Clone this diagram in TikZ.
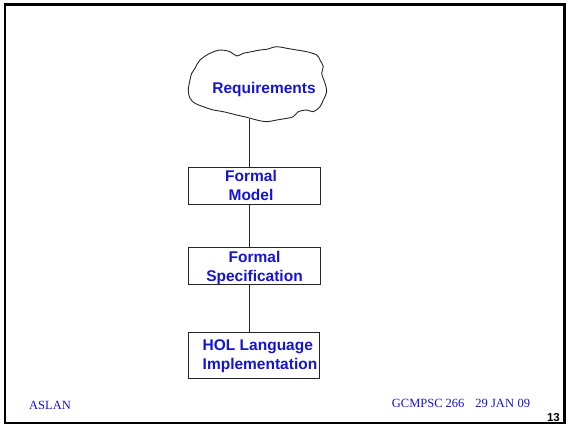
\documentclass[tikz,border=0pt]{standalone}
\usepackage{fontspec}
\setmainfont{Liberation Serif}
\newfontfamily\arialfont{Liberation Sans}
\definecolor{slideblue}{RGB}{20,20,210}
\begin{document}
\begin{tikzpicture}[x=1pt,y=-1pt,
  stage/.style={draw=black!85,line width=0.9pt,minimum width=132pt,minimum height=37pt,inner sep=0pt},
  stagetext/.style={font=\arialfont\bfseries\fontsize{15.5}{19}\selectfont,text=slideblue,align=center,inner sep=0pt},
  link/.style={draw=black!85,line width=0.9pt},
  foot/.style={font=\fontsize{12.5}{14}\selectfont,text=slideblue,inner sep=0pt}]
\useasboundingbox (0,0) rectangle (568,426);
% slide frame
\draw[line width=2.6pt] (4.8,4.2) rectangle (564.7,423);

% requirements cloud
\draw[black!85,line width=0.9pt] plot[smooth cycle,tension=0.6] coordinates {
 (195,68.3) (200,60) (210,53.3) (220,50) (230,51.7) (236.7,56) (243.3,53.3)
 (251.7,51.7) (260,50) (266.7,49.3) (276.7,46.7) (286.7,48.3) (296.7,50)
 (306.7,51.7) (316.7,55) (320,60) (323.3,66.7) (321.7,73.3) (325,83.3)
 (326.7,91.7) (323.3,100) (320,106.7) (313.3,111.7) (306.7,110) (298.3,111.7)
 (293.3,116.7) (286.7,118.3) (276.7,120) (266.7,121.7) (256.7,120)
 (246.7,117.3) (236.7,115) (223.3,111.7) (213.3,110) (203.3,106.7)
 (195,103.3) (190,98.3) (188.3,90) (190,80) (191.7,73.3)};
\node[stagetext,anchor=base] (req) at (264,93.3) {Requirements};
\coordinate (cloudbot) at (249,118.8);

% stages
\node[stage] (fm) at (254,185.5) {};
\node[stagetext] (fmtext) at (251,185.5) {Formal\\Model};
\node[stage] (fs) at (254,265.5) {};
\node[stagetext] (fstext) at (254.5,267.5) {Formal\\Specification};
\node[stage,minimum width=131pt,minimum height=46pt] (hol) at (253.5,355) {};
\node[stagetext,align=left] (holtext) at (260,356.5) {HOL Language\\Implementation};

% connectors
\draw[link] (cloudbot) -- (cloudbot |- fm.north);
\draw[link] (cloudbot |- fm.south) -- (cloudbot |- fs.north);
\draw[link] (cloudbot |- fs.south) -- (cloudbot |- hol.north);

% footer
\node[foot,anchor=base west] (author) at (29,409.3) {ASLAN};
\node[foot,anchor=base west] (course) at (391.7,407.7) {GCMPSC 266\hspace{11pt}29 JAN\hspace{3.6pt}09};
\node[font=\arialfont\bfseries\fontsize{11.5}{13}\selectfont,anchor=base east,inner sep=0pt] (page) at (560,421.5) {13};
\end{tikzpicture}
\end{document}
